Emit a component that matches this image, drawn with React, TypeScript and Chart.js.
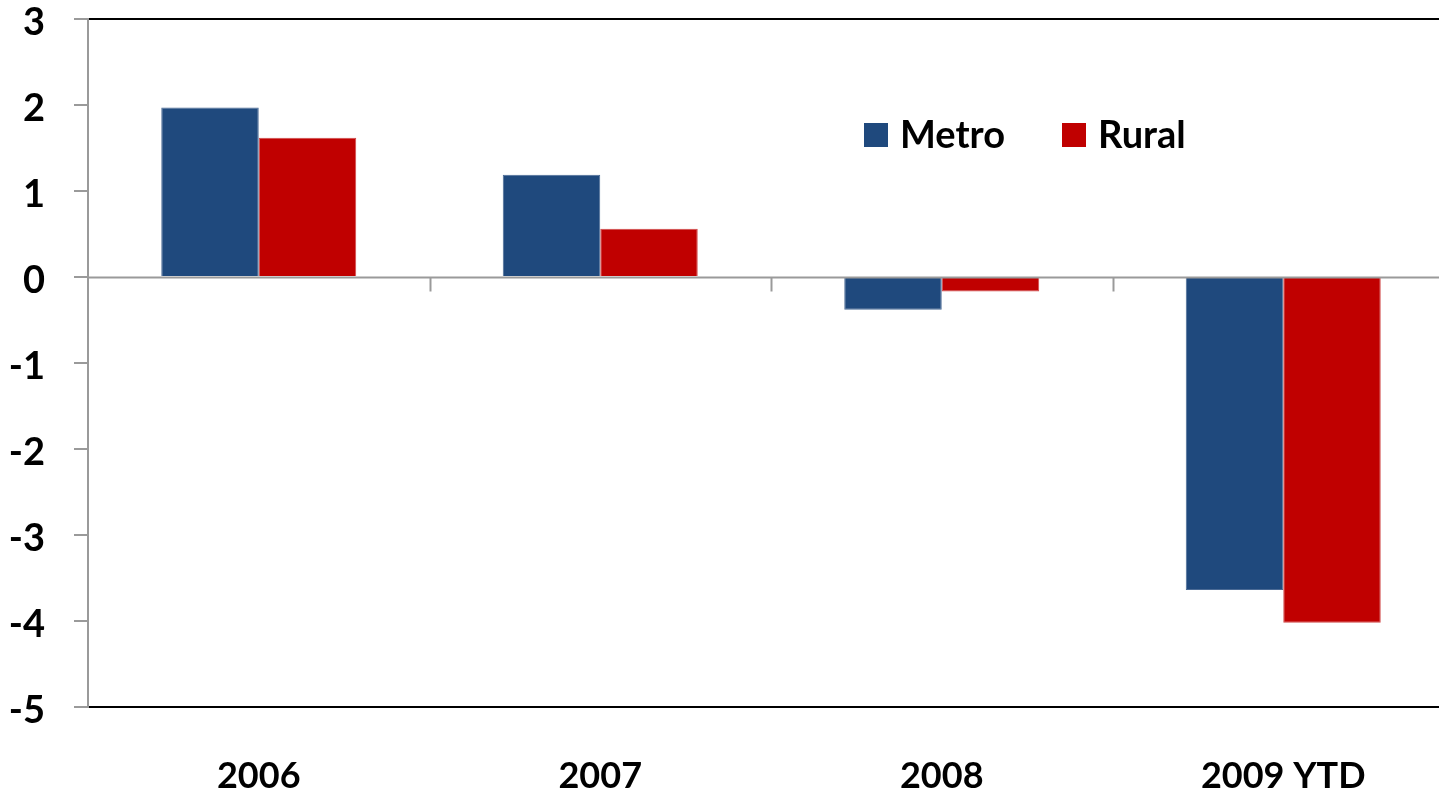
import React, { useEffect, useRef } from "react";
import { Chart, registerables } from "chart.js";

Chart.register(...registerables);

const categories = ["2006", "2007", "2008", "2009 YTD"];
const metroValues = [1.97, 1.19, -0.38, -3.64];
const ruralValues = [1.62, 0.56, -0.17, -4.02];
const seriesNames = ["Metro", "Rural"];
const yTickValues = [3, 2, 1, 0, -1, -2, -3, -4, -5];
const yTickLabels = ["3", "2", "1", "0", "-1", "-2", "-3", "-4", "-5"];

const METRO = "#1F497D";
const RURAL = "#C00000";
const FONT = "Lato, 'Open Sans', sans-serif";

const overlayPlugin = {
  id: "overlay",
  afterDatasetsDraw(chart: any) {
    const ctx = chart.ctx;
    const x = chart.scales.x;
    const y = chart.scales.y;
    const area = chart.chartArea;
    const zeroY = Math.round(y.getPixelForValue(0)) + 0.5;
    ctx.save();
    ctx.strokeStyle = "#9a9a9a";
    ctx.lineWidth = 2;
    ctx.beginPath();
    ctx.moveTo(area.left, zeroY);
    ctx.lineTo(area.right, zeroY);
    ctx.stroke();
    const half = (x.getPixelForValue(1) - x.getPixelForValue(0)) / 2;
    for (let i = 1; i < categories.length; i++) {
      const px = Math.round(x.getPixelForValue(i) - half) + 0.5;
      ctx.beginPath();
      ctx.moveTo(px, zeroY);
      ctx.lineTo(px, zeroY + 14);
      ctx.stroke();
    }
    // legend inside plot
    const items = chart.data.datasets;
    const legendX = [864, 1062];
    const legendY = 135;
    ctx.font = `bold 38px ${FONT}`;
    ctx.textBaseline = "middle";
    ctx.textAlign = "left";
    items.forEach((ds: any, i: number) => {
      ctx.fillStyle = ds.backgroundColor;
      ctx.fillRect(legendX[i], legendY - 12, 24, 24);
      ctx.fillStyle = "#000";
      ctx.fillText(ds.label, legendX[i] + 36, legendY + 1);
    });
    ctx.restore();
  },
};

export default function App() {
  const ref = useRef<HTMLCanvasElement>(null);
  useEffect(() => {
    if (!ref.current) return;
    const chart = new Chart(ref.current, {
      type: "bar",
      data: {
        labels: categories,
        datasets: [
          {
            label: seriesNames[0],
            data: metroValues,
            backgroundColor: METRO,
            borderColor: "#4a6a95",
            borderWidth: 1,
            categoryPercentage: 0.571,
            barPercentage: 1,
          },
          {
            label: seriesNames[1],
            data: ruralValues,
            backgroundColor: RURAL,
            borderColor: "#d04848",
            borderWidth: 1,
            categoryPercentage: 0.571,
            barPercentage: 1,
          },
        ],
      },
      options: {
        animation: false,
        responsive: true,
        maintainAspectRatio: false,
        layout: { padding: { left: 0, top: 19, right: 0, bottom: 0 } },
        plugins: { legend: { display: false }, tooltip: { enabled: false } },
        scales: {
          x: {
            grid: { display: false, drawTicks: false },
            border: { display: false },
            ticks: {
              color: "#000",
              font: { family: FONT, size: 36, weight: "bold" },
              padding: 48,
              maxRotation: 0,
              autoSkip: false,
            },
            afterFit(scale: any) {
              scale.height = 87;
            },
          },
          y: {
            min: -5,
            max: 3,
            afterBuildTicks(scale: any) {
              scale.ticks = yTickValues.map((v) => ({ value: v }));
            },
            grid: {
              color: (c: any) =>
                c.tick && (c.tick.value === 3 || c.tick.value === -5) ? "#000" : "rgba(0,0,0,0)",
              lineWidth: 2,
              tickColor: "#9a9a9a",
              tickLength: 14,
              drawTicks: true,
            },
            border: { display: true, color: "#9a9a9a", width: 2 },
            ticks: {
              color: "#000",
              font: { family: FONT, size: 38, weight: "bold" },
              padding: 29,
              labelOffset: 4,
              callback: (v: any) => {
                const idx = yTickValues.indexOf(Number(v));
                return idx >= 0 ? yTickLabels[idx] : "";
              },
            },
            afterFit(scale: any) {
              scale.width = 88;
              scale.paddingTop = 0;
              scale.paddingBottom = 0;
            },
          },
        },
      },
      plugins: [overlayPlugin],
    });
    return () => chart.destroy();
  }, []);
  return (
    <div style={{ position: "fixed", left: 0, top: 0, width: 1439, height: 794, overflow: "hidden", background: "#fff" }}>
      <div style={{ position: "relative", width: 1454, height: 794 }}>
        <canvas ref={ref} />
      </div>
    </div>
  );
}
